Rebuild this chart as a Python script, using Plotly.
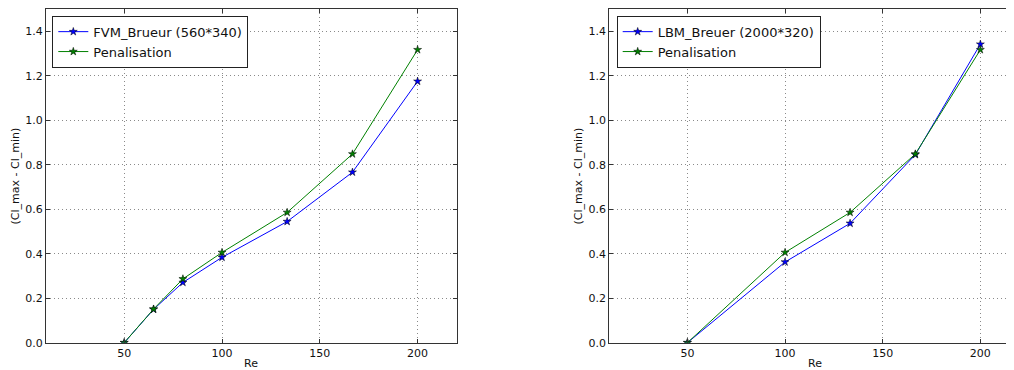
import plotly.graph_objects as go

# ---- data ----
re_left = [50, 65, 80, 100, 133.3, 166.7, 200]
fvm_breuer = [0.0, 0.15, 0.271, 0.384, 0.545, 0.767, 1.176]
penal_left = [0.0, 0.151, 0.287, 0.406, 0.586, 0.849, 1.318]

re_right = [50, 100, 133.3, 166.7, 200]
lbm_breuer = [0.0, 0.363, 0.537, 0.846, 1.343]
penal_right = [0.0, 0.406, 0.586, 0.849, 1.318]

x_ticks = [50, 100, 150, 200]
y_ticks = [0.0, 0.2, 0.4, 0.6, 0.8, 1.0, 1.2, 1.4]
y_tick_text = ["0.0", "0.2", "0.4", "0.6", "0.8", "1.0", "1.2", "1.4"]

OFF = 8  # default page body margin
W, H = 1014 - OFF, 370 - OFF
FONT = "DejaVu Sans"

def px(x):
    return (x - OFF) / W

def py(y):
    return 1 - (y - OFF) / H

fig = go.Figure()

def add_series(x, y, name, color, xa, ya, legend):
    fig.add_trace(go.Scatter(
        x=x, y=y, name=name, mode="lines+markers",
        line=dict(color=color, width=1),
        marker=dict(symbol="star", size=6, color=color, line=dict(color="black", width=0.5)),
        xaxis=xa, yaxis=ya, legend=legend,
    ))

add_series(re_left, fvm_breuer, "FVM_Brueur (560*340)", "#0000ff", "x", "y", "legend")
add_series(re_left, penal_left, "Penalisation", "#008000", "x", "y", "legend")
add_series(re_right, lbm_breuer, "LBM_Breuer (2000*320)", "#0000ff", "x2", "y2", "legend2")
add_series(re_right, penal_right, "Penalisation", "#008000", "x2", "y2", "legend2")

axis_common = dict(
    showline=True, linecolor="#333", linewidth=1,
    ticks="inside", ticklen=4, tickcolor="#333",
    showgrid=True, gridcolor="#8a8a8a", gridwidth=1, griddash="1px,3px",
    zeroline=False, automargin=False,
    tickfont=dict(family=FONT, size=11, color="#111"),
)

xr_right_max = 10 + (1014 - 609.3) / 1.953
left_dom = [px(46), px(456.7)]
right_dom = [px(609.3), 1.0]
y_dom = [py(342.7), py(9.3)]

fig.update_layout(
    width=W, height=H,
    margin=dict(l=0, r=0, t=0, b=0),
    paper_bgcolor="white", plot_bgcolor="white",
    font=dict(family=FONT, size=11, color="#111"),
    xaxis=dict(domain=left_dom, range=[10, 220], tickvals=x_ticks, mirror="ticks", anchor="y", **axis_common),
    yaxis=dict(domain=y_dom, range=[0, 1.5], tickvals=y_ticks, ticktext=y_tick_text, mirror="ticks", anchor="x", **axis_common),
    xaxis2=dict(domain=right_dom, range=[10, xr_right_max], tickvals=x_ticks, mirror="ticks", anchor="y2", **axis_common),
    yaxis2=dict(domain=y_dom, range=[0, 1.5], tickvals=y_ticks, ticktext=y_tick_text, mirror=False, anchor="x2", **axis_common),
    legend=dict(x=px(52.3), y=py(15.7), xanchor="left", yanchor="top",
                bordercolor="#222", borderwidth=1, bgcolor="white",
                font=dict(family=FONT, size=13, color="#111"), tracegroupgap=0),
    legend2=dict(x=px(616.7), y=py(15.7), xanchor="left", yanchor="top",
                 bordercolor="#222", borderwidth=1, bgcolor="white",
                 font=dict(family=FONT, size=13, color="#111"), tracegroupgap=0),
    showlegend=True,
)

for xc in [251.3, 814.7]:
    fig.add_annotation(text="Re", x=px(xc), y=py(363), xref="paper", yref="paper",
                       showarrow=False, font=dict(family=FONT, size=11, color="#111"),
                       xanchor="center", yanchor="middle")
for xc in [15.5, 578.5]:
    fig.add_annotation(text="(Cl_max - Cl_min)", x=px(xc), y=py(176), xref="paper", yref="paper",
                       showarrow=False, textangle=-90, font=dict(family=FONT, size=11, color="#111"),
                       xanchor="center", yanchor="middle")

fig.write_html("out.html")
